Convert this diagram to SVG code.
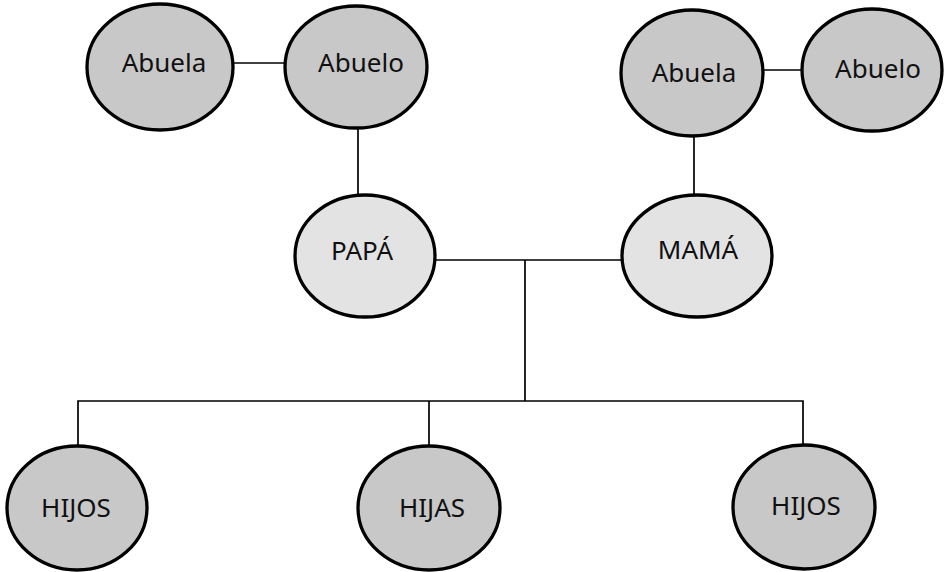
<svg xmlns="http://www.w3.org/2000/svg" width="944" height="572" viewBox="0 0 944 572">
<style>
.n{fill:#c8c8c8;stroke:#000;stroke-width:3.3}
.p{fill:#e3e3e3;stroke:#000;stroke-width:3.3}
.t{font-family:"Noto Sans","Open Sans",sans-serif;font-size:26px;fill:#111;text-anchor:middle}
.c{stroke:#000;stroke-width:1.7;fill:none}
</style>
<rect width="944" height="572" fill="#fff"/>
<g id="connectors">
<line class="c" x1="232" y1="63" x2="286" y2="63"/>
<line class="c" x1="358" y1="127" x2="358" y2="196"/>
<line class="c" x1="763" y1="70" x2="803" y2="70"/>
<line class="c" x1="694" y1="136" x2="694" y2="196"/>
<line class="c" x1="435" y1="260" x2="623" y2="260"/>
<line class="c" x1="525" y1="260" x2="525" y2="401"/>
<polyline class="c" points="78,447 78,401 803,401 803,445"/>
<line class="c" x1="429" y1="401" x2="429" y2="447"/>
</g>
<g id="abuela1"><ellipse class="n" cx="160" cy="67" rx="73" ry="63"/><text class="t" x="164" y="72">Abuela</text></g>
<g id="abuelo1"><ellipse class="n" cx="356" cy="67" rx="71" ry="61"/><text class="t" x="361" y="72">Abuelo</text></g>
<g id="abuela2"><ellipse class="n" cx="692" cy="73" rx="71" ry="63"/><text class="t" x="694" y="82">Abuela</text></g>
<g id="abuelo2"><ellipse class="n" cx="872" cy="70" rx="70" ry="61"/><text class="t" x="878" y="78">Abuelo</text></g>
<g id="papa"><ellipse class="p" cx="365" cy="256" rx="70" ry="61"/><text class="t" x="362" y="260">PAPÁ</text></g>
<g id="mama"><ellipse class="p" cx="697" cy="256" rx="75" ry="61"/><text class="t" x="698" y="259">MAMÁ</text></g>
<g id="hijos1"><ellipse class="n" cx="77" cy="508" rx="70" ry="62"/><text class="t" x="76" y="517">HIJOS</text></g>
<g id="hijas"><ellipse class="n" cx="429" cy="508" rx="71" ry="62"/><text class="t" x="432" y="517">HIJAS</text></g>
<g id="hijos2"><ellipse class="n" cx="804" cy="507" rx="71" ry="62"/><text class="t" x="806" y="515">HIJOS</text></g>
</svg>
